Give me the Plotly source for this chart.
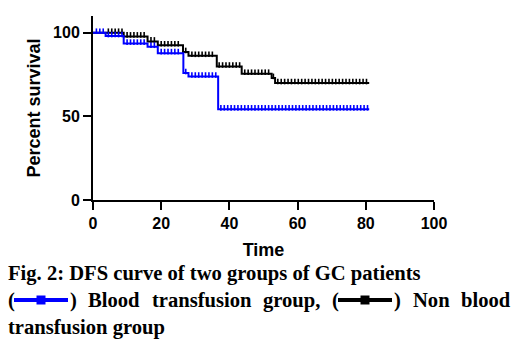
import plotly.graph_objects as go

# Kaplan-Meier step data (time, percent survival)
blue_t = [0, 3.7, 9.0, 16.0, 19.0, 26.5, 28.0, 36.7, 81.0]
blue_s = [100, 98.0, 93.5, 91.6, 87.8, 75.9, 73.8, 54.2, 54.2]
black_t = [0, 9.0, 16.0, 19.0, 26.4, 28.0, 36.3, 43.6, 52.4, 53.4, 81.0]
black_s = [100, 97.8, 94.8, 92.5, 88.5, 86.2, 79.8, 75.5, 73.0, 69.9, 69.9]

# censored observation times
blue_cens = [1, 2, 3, 4.5, 5.5, 6.5, 7.5, 8.5, 10, 11, 12, 13, 14, 15, 17, 18, 20, 21, 22, 23, 24, 25,
             27.2, 29, 30, 31, 32, 33, 34, 35, 36, 37.5, 38.5, 39.5, 40.5, 41.5, 42.5, 43.5, 44.5,
             45.5, 46.5, 47.5, 48.5, 49.5, 50.5, 51.5, 52.5, 53.5, 54.5, 55.5, 56.5, 57.5, 58.5,
             59.5, 60.5, 61.5, 62.5, 63.5, 64.5, 65.5, 66.5, 67.5, 68.5, 69.5, 70.5, 71.5, 72.5,
             73.5, 74.5, 75.5, 76.5, 77.5, 78.5, 79.5, 80.5]
black_cens = [4.5, 5.5, 6.5, 7.5, 8.5, 10, 11, 12, 13, 14, 15, 17, 18, 20, 21, 22, 23, 24, 25,
              27.2, 29, 30, 31, 32, 33, 34, 35, 37, 38, 39, 40, 41, 42, 43, 44.5, 45.5, 46.5,
              47.5, 48.5, 49.5, 50.5, 51.5, 52.9, 54.2, 55.2, 56.2, 57.2, 58.2, 59.2, 60.2, 61.2,
              62.2, 63.2, 64.2, 65.2, 66.2, 67.2, 68.2, 69.2, 70.2, 71.2, 72.2, 73.2, 74.2, 75.2,
              76.2, 77.2, 78.2, 79.2, 80.2]

x_ticks = [0, 20, 40, 60, 80, 100]
y_ticks = [0, 50, 100]


def surv_at(ts, ss, t):
    v = ss[0]
    for ti, si in zip(ts, ss):
        if ti <= t:
            v = si
    return v


BLUE = "#0000ff"
TICK_RAISE = 0.9  # censor ticks sit on top of the line

fig = go.Figure()
for ts, ss, cens, col in [(black_t, black_s, black_cens, "black"), (blue_t, blue_s, blue_cens, BLUE)]:
    fig.add_trace(go.Scatter(x=ts, y=ss, mode="lines", line=dict(color=col, width=2, shape="hv"),
                             showlegend=False, hoverinfo="skip"))
    fig.add_trace(go.Scatter(x=cens, y=[surv_at(ts, ss, c) + TICK_RAISE for c in cens], mode="markers",
                             marker=dict(symbol="line-ns", size=4, line=dict(color=col, width=1.6)),
                             showlegend=False, hoverinfo="skip"))

L, R, T, B = 93, 94, 16, 147
W, H = 528, 347
pw, ph = W - L - R, H - T - B


def px(x):
    return (x - L) / pw


def py(y):
    return (H - B - y) / ph


fig.update_layout(
    width=W, height=H, margin=dict(l=L, r=R, t=T, b=B),
    plot_bgcolor="white", paper_bgcolor="white",
    font=dict(family="Liberation Sans", color="black"),
    xaxis=dict(range=[0, 100], tickvals=x_ticks, showgrid=False, zeroline=False,
               showline=True, linecolor="black", linewidth=2, ticks="outside", ticklen=8,
               tickwidth=2, tickcolor="black",
               tickfont=dict(size=16, family="Liberation Sans", weight="bold"),
               title=dict(text="<b>Time</b>", font=dict(size=18), standoff=12)),
    yaxis=dict(range=[0, 110], tickvals=y_ticks, showgrid=False, zeroline=False,
               showline=True, linecolor="black", linewidth=2, ticks="outside", ticklen=8,
               tickwidth=2, tickcolor="black",
               tickfont=dict(size=16, family="Liberation Sans", weight="bold"),
               title=dict(text="<b>Percent survival</b>", font=dict(size=18), standoff=8)),
)

cap_font = dict(family="Liberation Serif", size=20.6, color="black")


def cap(text, x, y, anchor="left"):
    fig.add_annotation(text="<b>" + text + "</b>", xref="paper", yref="paper", x=px(x), y=py(y),
                       xanchor=anchor, yanchor="middle", showarrow=False, font=cap_font)


cap("Fig. 2: DFS curve of two groups of GC patients", 6, 273)
row2 = [("(", 6), (")", 68), ("Blood", 86), ("transfusion", 150), ("group,", 261),
        ("(", 330), (")", 392), ("Non", 411), ("blood", 459)]
for t, x in row2:
    cap(t, x, 300)
cap("transfusion group", 6, 327)

# legend glyphs inside caption
for x0, x1, col in [(14, 68, BLUE), (338, 392, "black")]:
    fig.add_shape(type="line", xref="paper", yref="paper", x0=px(x0), x1=px(x1), y0=py(300), y1=py(300),
                  line=dict(color=col, width=4))
    cx = (x0 + x1) / 2
    fig.add_shape(type="rect", xref="paper", yref="paper", x0=px(cx - 4.5), x1=px(cx + 4.5),
                  y0=py(304.5), y1=py(295.5), fillcolor=col, line=dict(width=0))

fig.write_html("out.html")
